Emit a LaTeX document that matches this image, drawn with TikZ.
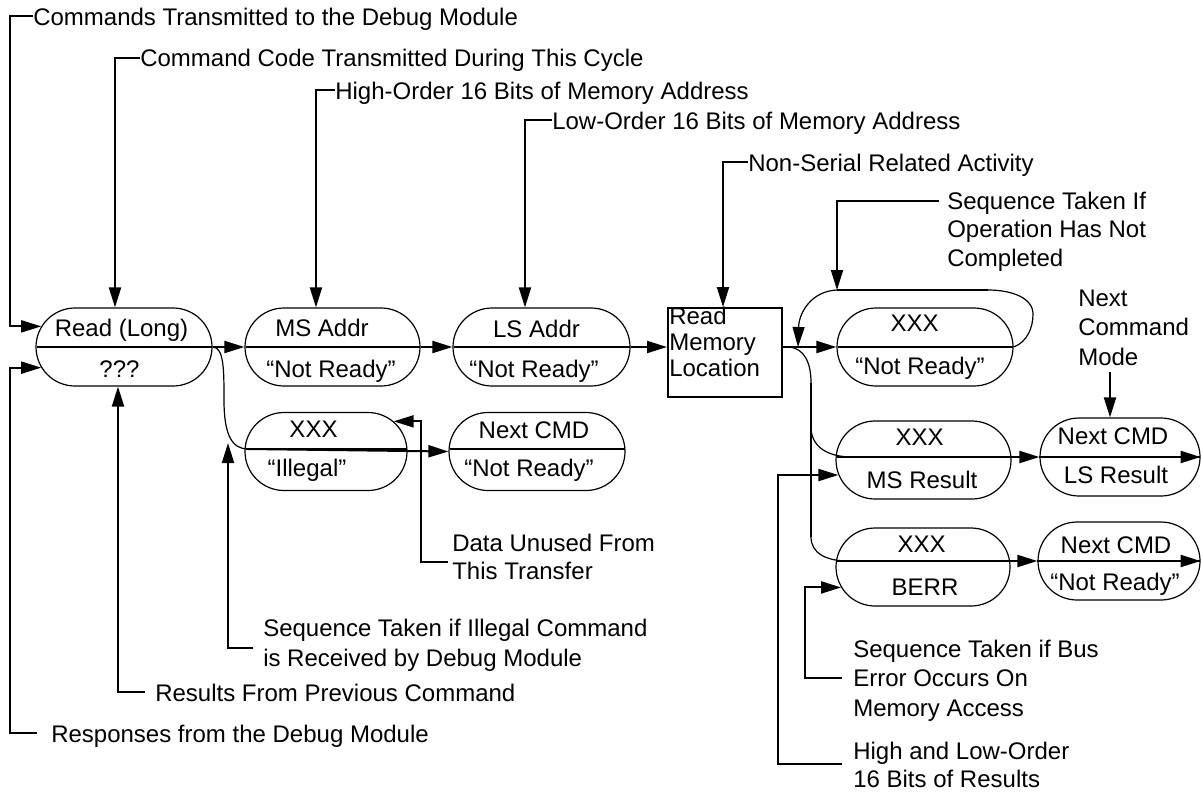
\documentclass[tikz,border=0pt]{standalone}
\usepackage{fontspec}
\setmainfont{Liberation Sans}
\usetikzlibrary{arrows.meta,shapes.misc,calc}
\newcommand\ovl[9]{%
  \node[ovalshape, minimum width=#4*0.75pt] (#1) at (#2,#3) {};
  \draw[heavy] (#2-#4/2+0.5,#5) -- (#2+#4/2-0.5,#5);
  \node[otxt] (#1-top) at (#6) {#7};
  \node[otxt] (#1-bot) at (#8) {#9};
}
\begin{document}
\begin{tikzpicture}[x=0.75pt,y=-0.75pt,
  font=\fontsize{18}{22}\selectfont,
  heavy/.style={line width=1.5pt},
  lite/.style={line width=0.9pt},
  arr/.style={line width=1.5pt,-{Triangle[length=15pt,width=9pt]}},
  litearr/.style={line width=0.9pt,-{Triangle[length=15pt,width=9pt]}},
  ovalshape/.style={draw, rounded rectangle, line width=0.9pt, minimum height=78*0.75pt, inner sep=0pt},
  otxt/.style={anchor=base, inner sep=0pt},
  lbl/.style={anchor=north west, inner sep=0pt, align=left},
]
\fill[white] (0,0) rectangle (1201,793);
\useasboundingbox (0,0) rectangle (1201,793);

% ovals
\ovl{read}{124}{347}{176}{347}{121.5,336}{Read (Long)}{119.5,377}{???}
\ovl{msaddr}{332.5}{347}{175}{347}{322,336}{MS Addr}{331,377}{“Not Ready”}
\ovl{lsaddr}{541.5}{347}{177}{347}{536.5,337}{LS Addr}{534,377}{“Not Ready”}
\ovl{illegal}{326}{451.5}{162}{449}{313.5,437}{XXX}{307,476}{“Illegal”}
\ovl{nextA}{537}{451.5}{176}{449}{534,438}{Next CMD}{529,476}{“Not Ready”}
\ovl{xxx1}{925}{347}{176}{347}{914.5,331}{XXX}{920,374}{“Not Ready”}
\ovl{msres}{923.5}{460}{175}{457}{919.5,445}{XXX}{922,488}{MS Result}
\ovl{nextls}{1120}{457}{160}{457}{1113,444}{Next CMD}{1116,483}{LS Result}
\ovl{berr}{923}{567}{174}{561}{921.5,552}{XXX}{925,595}{BERR}
\ovl{nextnr}{1119}{561}{162}{561}{1116,553}{Next CMD}{1115,590}{“Not Ready”}

% box
\node[draw, line width=1.5pt, minimum width=114*0.75pt, minimum height=89*0.75pt, inner sep=0pt] (box) at (725,352.5) {};
\node[lbl, font=\fontsize{18}{19.5}\selectfont] (boxtxt) at (669,306.4) {Read\\Memory\\Location};

% labels
\node[lbl] (cmds) at (33,7.4) {Commands Transmitted to the Debug Module};
\node[lbl] (code) at (140,49) {Command Code Transmitted During This Cycle};
\node[lbl] (hiord) at (335,81.4) {High-Order 16 Bits of Memory Address};
\node[lbl] (loord) at (552,111.4) {Low-Order 16 Bits of Memory Address};
\node[lbl] (nonser) at (748,153.4) {Non-Serial Related Activity};
\node[lbl, font=\fontsize{18}{21.4}\selectfont] (seqif) at (947,191.4) {Sequence Taken If\\Operation Has Not\\Completed};
\node[lbl, font=\fontsize{18}{22.1}\selectfont] (nxtmode) at (1078,289.4) {Next\\Command\\Mode};
\node[lbl, font=\fontsize{18}{21}\selectfont] (unused) at (452,533.4) {Data Unused From\\This Transfer};
\node[lbl, font=\fontsize{18}{22.5}\selectfont] (illlbl) at (263,618.4) {Sequence Taken if Illegal Command\\is Received by Debug Module};
\node[lbl] (prev) at (155,683.4) {Results From Previous Command};
\node[lbl] (resp) at (51,724.4) {Responses from the Debug Module};
\node[lbl, font=\fontsize{18}{22.1}\selectfont] (buserr) at (853,639.4) {Sequence Taken if Bus\\Error Occurs On\\Memory Access};
\node[lbl, font=\fontsize{18}{21.4}\selectfont] (hilo) at (853,741.4) {High and Low-Order\\16 Bits of Results};

% named free ends
\coordinate (looptop) at (837,290);
\coordinate (junc) at (798,347);
\coordinate (brA) at (790,347);
\coordinate (illin) at (248,449);
\coordinate (illtip) at (228,443);
\coordinate (msin) at (852,457);
\coordinate (berrin) at (848,561);
\coordinate (nmstart) at (1110,372);

% label connectors
\draw[arr] ($(cmds.north west)+(0,8.6)$) -- ++(-23,0) |- (read.166);
\draw[arr] ($(code.north west)+(0,8.6)$) -| ([xshift=-6.75pt]read.north);
\draw[arr] ($(hiord.north west)+(0,8.6)$) -| ([xshift=-12.4pt]msaddr.north);
\draw[arr] ($(loord.north west)+(0,8.6)$) -| ([xshift=-12.4pt]lsaddr.north);
\draw[arr] ($(nonser.north west)+(0,8.6)$) -| ([xshift=-1.5pt]box.north);
\draw[arr] ($(seqif.north west)+(-8,10)$) -| (looptop);
\draw[arr] (nmstart) -- (nmstart |- nextls.north);
\draw[arr] ($(unused.north west)+(-4,28.6)$) -- ++(-27,0) |- (illegal.24);
\draw[arr] ($(illlbl.north west)+(-10,29.6)$) -| (illtip);
\draw[arr] ($(prev.north west)+(-10,8.6)$) -| ([xshift=-4.5pt]read.south);
\draw[arr] ($(resp.north west)+(-14,8.6)$) -- ++(-27,0) |- (read.194);
\draw[arr] ($(buserr.north west)+(-11,38.6)$) -- ++(-37,0) |- (berr.194);
\draw[arr] ($(hilo.north west)+(-11,22.6)$) -- ++(-64,0) |- (msres.190);

% main flow
\draw[arr] (read.east) -- (msaddr.west);
\draw[arr] (msaddr.east) -- (lsaddr.west);
\draw[arr] (lsaddr.east) -- (lsaddr.east -| box.west);
\draw[arr] (box.east |- xxx1.west) -- (xxx1.west);
\draw[lite] (read.east) .. controls (224,347) and (224,370) .. (224,400) .. controls (224,435) and (232,449) .. (illin);
\draw[arr] (illin) -- (nextA.west);

% retry loop
\draw[lite] (xxx1.east) .. controls (1027,342) and (1033,328) .. (1033,314) .. controls (1033,298) and (1012,290) .. (988,290);
\draw[heavy] (988,290) -- (looptop);
\draw[litearr] (looptop) .. controls (812,291) and (799,312) .. (junc);

% branches
\draw[lite] (brA) .. controls (804,349) and (811,362) .. (811,383);
\draw[heavy] (811,383) -- (811,537);
\draw[lite] (811,537) .. controls (811,553) and (826,561) .. (berrin);
\draw[lite] (811,427) .. controls (811,447) and (828,457) .. (msin);
\draw[arr] (msin) -- (nextls.west);
\draw[arr] (berrin) -- (nextnr.west);
\draw[arr] (nextls.west) -- (nextls.east);
\draw[arr] (nextnr.west) -- (nextnr.east);
\end{tikzpicture}
\end{document}
